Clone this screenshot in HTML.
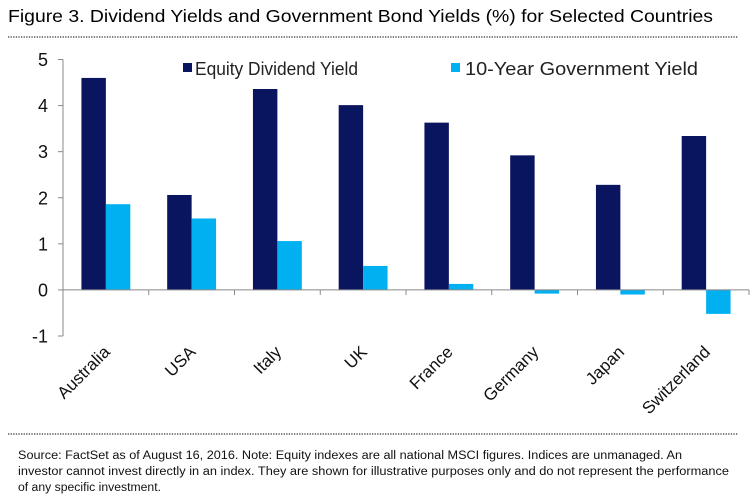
<!DOCTYPE html>
<html><head><meta charset="utf-8"><style>
body{margin:0;background:#fff;width:753px;height:497px;overflow:hidden;font-family:"Liberation Sans",Arial,sans-serif}
</style></head><body>
<svg width="753" height="497" viewBox="0 0 753 497">
<text x="8" y="22" font-size="17.5" fill="#000" textLength="705" lengthAdjust="spacingAndGlyphs">Figure 3. Dividend Yields and Government Bond Yields (%) for Selected Countries</text>
<line x1="8" y1="37" x2="738" y2="37" stroke="#333" stroke-width="1.3" stroke-dasharray="1.3,1.3"/>
<g id="plot"></g>
<g>
<rect x="183" y="63" width="9" height="9" fill="#0a1560"/>
<text x="195" y="75" font-size="18" fill="#222" textLength="163" lengthAdjust="spacingAndGlyphs">Equity Dividend Yield</text>
<rect x="451" y="63" width="9" height="9" fill="#00b0f0"/>
<text x="465" y="75" font-size="18" fill="#222" textLength="233" lengthAdjust="spacingAndGlyphs">10-Year Government Yield</text>
</g>
<line x1="8" y1="434" x2="738" y2="434" stroke="#333" stroke-width="1.3" stroke-dasharray="1.3,1.3"/>
<g font-size="11.5" fill="#111">
<text x="18" y="459" textLength="664" lengthAdjust="spacingAndGlyphs">Source: FactSet as of August 16, 2016. Note: Equity indexes are all national MSCI figures. Indices are unmanaged. An</text>
<text x="18" y="475" textLength="711" lengthAdjust="spacingAndGlyphs">investor cannot invest directly in an index. They are shown for illustrative purposes only and do not represent the performance</text>
<text x="18" y="491" textLength="143" lengthAdjust="spacingAndGlyphs">of any specific investment.</text>
</g>
</svg>
<script>
const categories=["Australia","USA","Italy","UK","France","Germany","Japan","Switzerland"];
const equityYield=[4.6,2.06,4.36,4.01,3.63,2.92,2.28,3.34];
const bondYield=[1.86,1.55,1.06,0.52,0.13,-0.08,-0.1,-0.52];
const yTicks=[5,4,3,2,1,0,-1];
const NS="http://www.w3.org/2000/svg";
const g=document.getElementById('plot');
const x0=63,x1=749,yTop=59.5,yBot=336,yMax=5,yMin=-1;
const y=v=>yTop+(yMax-v)*(yBot-yTop)/(yMax-yMin);
const band=(x1-x0)/categories.length;
const bw=band*0.285;
function el(t,a){const e=document.createElementNS(NS,t);for(const k in a)e.setAttribute(k,a[k]);g.appendChild(e);return e;}
let ax=el('line',{x1:x0,y1:yTop,x2:x0,y2:yBot,stroke:'#888'});


yTicks.forEach(v=>{
 const t=el('line',{x1:x0-5,y1:y(v),x2:x0,y2:y(v),stroke:'#888'});
 
 
 const l=el('text',{x:48,y:y(v)+6.5,'font-size':18,'text-anchor':'end',fill:'#111'});
 l.textContent=v;
 
 
});
categories.forEach((c,i)=>{
 const cx=x0+band*(i+0.5);
 const e=equityYield[i],b=bondYield[i];
 const r1=el('rect',{x:cx-bw,y:Math.min(y(e),y(0)),width:bw,height:Math.abs(y(e)-y(0)),fill:'#0a1560'});
 
 
 const r2=el('rect',{x:cx,y:Math.min(y(b),y(0)),width:bw,height:Math.abs(y(b)-y(0)),fill:'#00b0f0'});
 
 
 const tk=el('line',{x1:x0+band*(i+1),y1:y(0),x2:x0+band*(i+1),y2:y(0)+5,stroke:'#888'});
 
 
 const lx=cx+5,ly=353;
 const t=el('text',{x:lx,y:ly,'font-size':17,'text-anchor':'end',fill:'#111',transform:`rotate(-45 ${lx} ${ly})`});
 t.textContent=c;
 
 
});
let zl=el('line',{x1:x0,y1:y(0),x2:x1,y2:y(0),stroke:'#888'});


</script>
</body></html>
